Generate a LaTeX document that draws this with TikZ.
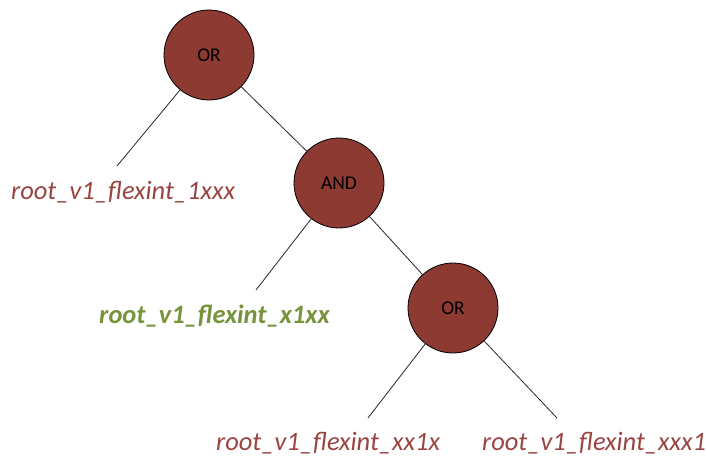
\documentclass[tikz,border=0pt]{standalone}
\usepackage{fontspec}
\setmainfont{Carlito}
\definecolor{nodefill}{HTML}{8C3A32}
\definecolor{labred}{HTML}{9A4442}
\definecolor{labgreen}{HTML}{77933C}
\begin{document}
\begin{tikzpicture}[x=1pt,y=-1pt,
  gate/.style={circle,draw=black,line width=0.8pt,fill=nodefill,minimum size=90pt,inner sep=0pt,font=\fontsize{19.5}{22}\selectfont},
  leaf/.style={anchor=base west,inner sep=0pt,font=\fontsize{26.5}{30}\selectfont\itshape,text=labred},
  edge/.style={draw=black!85,line width=0.8pt}]
\useasboundingbox (0,0) rectangle (707,459);
\node[gate] (or1) at (209,55) {OR};
\node[gate] (and) at (339,183) {AND};
\node[gate] (or2) at (453,308) {OR};
\node[leaf] (l1) at (11,199) {root\_v1\_flexint\_1xxx};
\node[leaf,text=labgreen,font=\fontsize{26.5}{30}\selectfont\itshape\bfseries] (l2) at (99,323) {root\_v1\_flexint\_x1xx};
\node[leaf] (l3) at (216,450) {root\_v1\_flexint\_xx1x};
\node[leaf] (l4) at (482,450) {root\_v1\_flexint\_xxx1};
\coordinate (e1) at (117,166);
\coordinate (e2) at (256,290);
\coordinate (e3) at (368,418);
\coordinate (e4) at (557,418);
\draw[edge] (or1) -- (e1);
\draw[edge] (or1) -- (and);
\draw[edge] (and) -- (e2);
\draw[edge] (and) -- (or2);
\draw[edge] (or2) -- (e3);
\draw[edge] (or2) -- (e4);
\end{tikzpicture}
\end{document}
